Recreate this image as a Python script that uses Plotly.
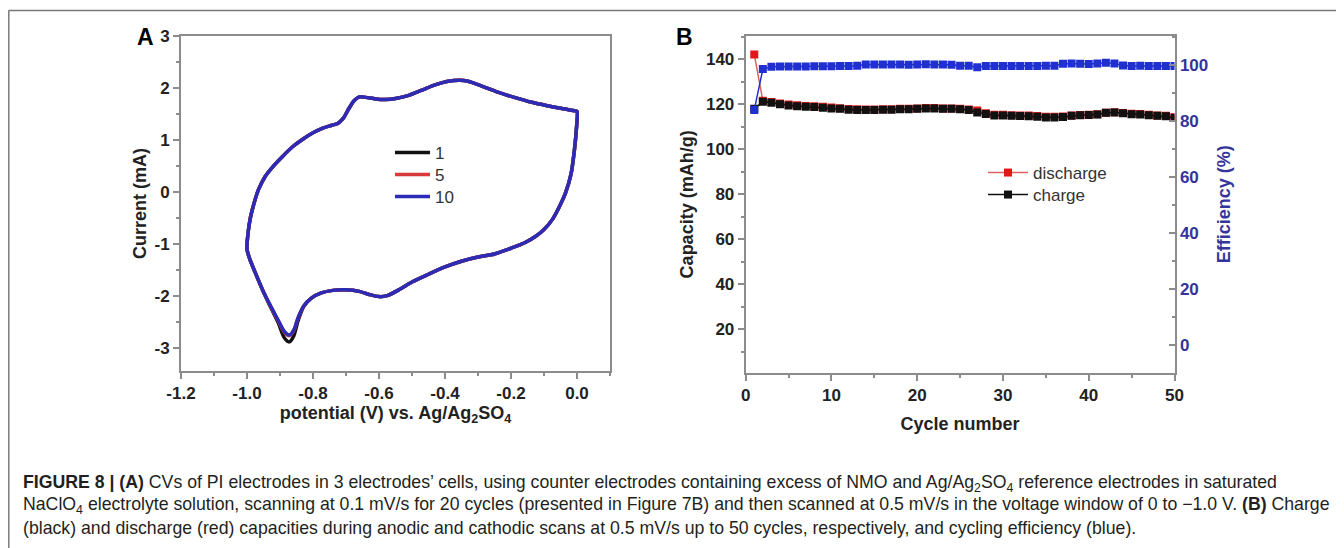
import plotly.graph_objects as go

W, H = 1344, 548
OFF = 8  # default page body margin: div starts at (8, 8) on screen


def fx(x):
    """screen pixel x -> paper x"""
    return (x - OFF) / W


def fy(y):
    """screen pixel y (from top) -> paper y"""
    return 1 - (y - OFF) / H


# ---------------- Panel A data (CV loop) ----------------
cv_potential = [-1.000, -0.997, -0.990, -0.978, -0.965, -0.945, -0.920, -0.890, -0.860, -0.830,
                -0.800, -0.770, -0.745, -0.725, -0.708, -0.690, -0.675, -0.660, -0.640, -0.610,
                -0.580, -0.550, -0.510, -0.470, -0.430, -0.390, -0.355, -0.330, -0.290, -0.240,
                -0.190, -0.140, -0.090, -0.040, -0.005, 0.000,
                -0.002, -0.008, -0.018, -0.035, -0.055, -0.075, -0.100, -0.125, -0.160, -0.200,
                -0.250, -0.300, -0.350, -0.400, -0.450, -0.500, -0.540, -0.575, -0.600, -0.630,
                -0.660, -0.700, -0.740, -0.775, -0.805, -0.828, -0.845, -0.858, -0.872, -0.887,
                -0.905, -0.925, -0.950, -0.975, -0.992, -1.000]

current_cycle1 = [-1.10, -0.80, -0.50, -0.20, 0.05, 0.30, 0.50, 0.70, 0.88, 1.02,
                  1.14, 1.23, 1.28, 1.32, 1.42, 1.62, 1.76, 1.83, 1.82, 1.79,
                  1.78, 1.80, 1.86, 1.96, 2.06, 2.13, 2.15, 2.13, 2.04, 1.92,
                  1.82, 1.73, 1.66, 1.60, 1.56, 1.55,
                  1.20, 0.80, 0.35, -0.02, -0.30, -0.53, -0.72, -0.85, -0.98, -1.08,
                  -1.19, -1.25, -1.33, -1.44, -1.58, -1.73, -1.88, -1.99, -2.01, -1.97,
                  -1.91, -1.88, -1.89, -1.94, -2.04, -2.20, -2.47, -2.76, -2.88, -2.80,
                  -2.52, -2.26, -1.92, -1.55, -1.28, -1.10]

current_cycle5 = [-1.10, -0.80, -0.50, -0.20, 0.05, 0.30, 0.50, 0.70, 0.88, 1.02,
                  1.14, 1.23, 1.28, 1.32, 1.42, 1.62, 1.76, 1.83, 1.82, 1.79,
                  1.78, 1.80, 1.86, 1.96, 2.06, 2.13, 2.15, 2.13, 2.04, 1.92,
                  1.82, 1.73, 1.66, 1.60, 1.56, 1.55,
                  1.20, 0.80, 0.35, -0.02, -0.30, -0.53, -0.72, -0.85, -0.98, -1.08,
                  -1.19, -1.25, -1.33, -1.44, -1.58, -1.73, -1.88, -1.99, -2.01, -1.97,
                  -1.91, -1.88, -1.89, -1.94, -2.04, -2.19, -2.42, -2.66, -2.76, -2.69,
                  -2.48, -2.24, -1.92, -1.55, -1.28, -1.10]

current_cycle10 = [-1.10, -0.80, -0.50, -0.20, 0.05, 0.30, 0.50, 0.70, 0.88, 1.02,
                   1.14, 1.23, 1.28, 1.32, 1.42, 1.62, 1.76, 1.83, 1.82, 1.79,
                   1.78, 1.80, 1.86, 1.96, 2.06, 2.13, 2.15, 2.13, 2.04, 1.92,
                   1.82, 1.73, 1.66, 1.60, 1.56, 1.55,
                   1.20, 0.80, 0.35, -0.02, -0.30, -0.53, -0.72, -0.85, -0.98, -1.08,
                   -1.19, -1.25, -1.33, -1.44, -1.58, -1.73, -1.88, -1.99, -2.01, -1.97,
                   -1.91, -1.88, -1.89, -1.94, -2.04, -2.19, -2.41, -2.65, -2.75, -2.68,
                   -2.47, -2.23, -1.92, -1.55, -1.28, -1.10]

cv_names = ["1", "5", "10"]
a_xticks = [-1.2, -1.0, -0.8, -0.6, -0.4, -0.2, 0.0]
a_xticktext = ["-1.2", "-1.0", "-0.8", "-0.6", "-0.4", "-0.2", "0.0"]
a_yticks = [-3, -2, -1, 0, 1, 2, 3]
a_yticktext = ["-3", "-2", "-1", "0", "1", "2", "3"]

# ---------------- Panel B data (cycling) ----------------
cycle = list(range(1, 51))
charge = [118.0, 121.2, 120.7, 120.0, 119.5, 119.2, 118.9, 118.8, 118.5, 118.2,
          118.0, 117.6, 117.5, 117.5, 117.5, 117.6, 117.6, 117.8, 117.8, 118.0,
          118.2, 118.2, 118.0, 118.0, 117.8, 117.5, 116.4, 115.7, 115.1, 115.1,
          114.9, 114.8, 114.7, 114.5, 114.2, 114.2, 114.4, 114.9, 115.2, 115.3,
          115.5, 116.3, 116.4, 116.0, 115.6, 115.5, 115.2, 114.9, 114.7, 114.1]
discharge = [142.2, 121.6, 121.1, 120.4, 119.9, 119.6, 119.3, 119.2, 118.9, 118.6,
             118.3, 117.9, 117.8, 117.7, 117.7, 117.8, 117.8, 118.0, 118.0, 118.2,
             118.4, 118.4, 118.2, 118.2, 118.0, 117.7, 117.3, 116.0, 115.4, 115.4,
             115.2, 115.1, 115.0, 114.8, 114.5, 114.5, 114.6, 115.0, 115.3, 115.4,
             115.6, 116.3, 116.5, 116.2, 115.8, 115.7, 115.4, 115.1, 114.9, 114.3]
efficiency = [84.0, 98.6, 99.4, 99.5, 99.5, 99.5, 99.5, 99.6, 99.6, 99.6,
              99.7, 99.7, 99.8, 100.2, 100.2, 100.2, 100.2, 100.2, 100.1, 100.2,
              100.3, 100.2, 100.2, 100.1, 99.8, 99.8, 99.2, 99.7, 99.7, 99.7,
              99.7, 99.7, 99.7, 99.7, 99.8, 99.8, 100.5, 100.6, 100.5, 100.4,
              100.6, 100.8, 100.6, 99.9, 99.7, 99.8, 99.7, 99.7, 99.7, 99.7]

caption_lines = [
    "<b>FIGURE 8 | (A)</b> CVs of PI electrodes in 3 electrodes’ cells, using counter electrodes containing excess of NMO and Ag/Ag<sub>2</sub>SO<sub>4</sub> reference electrodes in saturated",
    "NaClO<sub>4</sub> electrolyte solution, scanning at 0.1 mV/s for 20 cycles (presented in Figure 7B) and then scanned at 0.5 mV/s in the voltage window of 0 to −1.0 V. <b>(B)</b> Charge",
    "(black) and discharge (red) capacities during anodic and cathodic scans at 0.5 mV/s up to 50 cycles, respectively, and cycling efficiency (blue).",
]

FONT = "Liberation Sans, Arial, sans-serif"
AXC = "#8c8c8c"
TXT = "#222222"
EFF_C = "#34349a"

fig = go.Figure()

cv_colors = ["#111111", "#d83a3a", "#2b2bb5"]
cv_legends = ["legend", "legend2", "legend3"]
for name, cur, col, lg in zip(cv_names, [current_cycle1, current_cycle5, current_cycle10],
                              cv_colors, cv_legends):
    fig.add_trace(go.Scatter(
        x=cv_potential, y=cur, mode="lines", name=name,
        line=dict(color=col, width=3.5, shape="spline", smoothing=0.8),
        xaxis="x", yaxis="y", legend=lg))

fig.add_trace(go.Scatter(
    x=cycle, y=discharge, mode="lines+markers", name="discharge",
    line=dict(color="#e06060", width=1.5),
    marker=dict(symbol="square", size=8, color="#e01818"),
    xaxis="x2", yaxis="y2", legend="legend4"))
fig.add_trace(go.Scatter(
    x=cycle, y=charge, mode="lines+markers", name="charge",
    line=dict(color="#111111", width=1.5),
    marker=dict(symbol="square", size=8, color="#111111"),
    xaxis="x2", yaxis="y2", legend="legend5"))
fig.add_trace(go.Scatter(
    x=cycle, y=efficiency, mode="lines+markers", name="efficiency",
    line=dict(color="#2030d0", width=1.5),
    marker=dict(symbol="square", size=8, color="#2030d0"),
    xaxis="x2", yaxis="y3", showlegend=False))

ax_common = dict(showline=True, linecolor=AXC, linewidth=2, showgrid=False, zeroline=False,
                 automargin=False,
                 ticks="outside", tickcolor=AXC, tickwidth=1.5, ticklen=6,
                 tickfont=dict(family=FONT, size=17, color=TXT, weight="bold"))
minor_out = dict(ticks="outside", ticklen=3, tickcolor=AXC, tickwidth=1.5)


def leg(x_line_start, y_center, width):
    return dict(x=fx(x_line_start - 5), y=fy(y_center - 18), xanchor="left", yanchor="top",
                bgcolor="rgba(0,0,0,0)", borderwidth=0, itemwidth=width,
                font=dict(family=FONT, size=17, color="#333333"))


fig.update_layout(
    width=W, height=H,
    margin=dict(l=0, r=0, t=0, b=0, autoexpand=False),
    paper_bgcolor="white", plot_bgcolor="white",
    font=dict(family=FONT, color=TXT),
    xaxis=dict(**ax_common, domain=[fx(181), fx(610)], range=[-1.2, 0.1], anchor="y", mirror=True,
               tickmode="array", tickvals=a_xticks, ticktext=a_xticktext,
               minor=dict(**minor_out, dtick=0.1, tick0=0),
               title=dict(text="<b>potential (V) vs. Ag/Ag<sub>2</sub>SO<sub>4</sub></b>", standoff=2,
                          font=dict(family=FONT, size=18, color=TXT))),
    yaxis=dict(**ax_common, domain=[fy(371), fy(36)], range=[-3.44, 3], anchor="x", mirror=True,
               tickmode="array", tickvals=a_yticks, ticktext=a_yticktext,
               minor=dict(**minor_out, dtick=0.5, tick0=0),
               title=dict(text="<b>Current (mA)</b>", standoff=3,
                          font=dict(family=FONT, size=18, color=TXT))),
    xaxis2=dict(**ax_common, domain=[fx(745.7), fx(1174.5)], range=[0, 50], anchor="y2", mirror=True,
                tickmode="linear", tick0=0, dtick=10,
                minor=dict(**minor_out, dtick=5, tick0=0),
                title=dict(text="<b>Cycle number</b>", standoff=13,
                           font=dict(family=FONT, size=18, color=TXT))),
    yaxis2=dict(**ax_common, domain=[fy(372.7), fy(36)], range=[0.7, 150.4], anchor="x2",
                mirror=True, tickmode="linear", tick0=0, dtick=20,
                minor=dict(**minor_out, dtick=10, tick0=0),
                title=dict(text="<b>Capacity (mAh/g)</b>", standoff=8,
                           font=dict(family=FONT, size=18, color=TXT))),
    yaxis3=dict(showline=True, linecolor=AXC, linewidth=2, showgrid=False, zeroline=False,
                automargin=False,
                overlaying="y2", side="right", anchor="x2", range=[-9.9, 110.4],
                tickmode="linear", tick0=0, dtick=20,
                ticks="inside", tickcolor=AXC, tickwidth=1.5, ticklen=6,
                minor=dict(ticks="inside", ticklen=3, tickcolor=AXC, tickwidth=1.5, dtick=10, tick0=0),
                tickfont=dict(family=FONT, size=17, color=EFF_C, weight="bold"),
                title=dict(text="<b>Efficiency (%)</b>", standoff=10,
                           font=dict(family=FONT, size=18, color=EFF_C))),
    legend=leg(395, 153, 35),
    legend2=leg(395, 175, 35),
    legend3=leg(395, 197, 35),
    legend4=leg(988, 173, 40),
    legend5=leg(988, 195, 40),
    showlegend=True,
)

# panel letters
fig.add_annotation(text="<b>A</b>", x=fx(145.5), y=fy(37.5), xref="paper", yref="paper",
                   xanchor="center", yanchor="middle",
                   showarrow=False, font=dict(family=FONT, size=23, color="#000000"))
fig.add_annotation(text="<b>B</b>", x=fx(684), y=fy(37.5), xref="paper", yref="paper",
                   xanchor="center", yanchor="middle",
                   showarrow=False, font=dict(family=FONT, size=23, color="#000000"))

# caption
cap_y = [483, 506, 528]
for line, yy in zip(caption_lines, cap_y):
    fig.add_annotation(text=line, x=fx(21), y=fy(yy), xref="paper", yref="paper",
                       xanchor="left", yanchor="middle", showarrow=False, align="left",
                       font=dict(family=FONT, size=17.7, color="#231f20"))

# outer figure frame (top and left edges)
fig.add_shape(type="line", xref="paper", yref="paper", x0=fx(8.5), x1=fx(1352), y0=fy(10.5), y1=fy(10.5),
              line=dict(color="#7a7a7a", width=1.5))
fig.add_shape(type="line", xref="paper", yref="paper", x0=fx(8.8), x1=fx(8.8), y0=fy(556), y1=fy(10.5),
              line=dict(color="#7a7a7a", width=1.5))

fig.write_html("out.html")
